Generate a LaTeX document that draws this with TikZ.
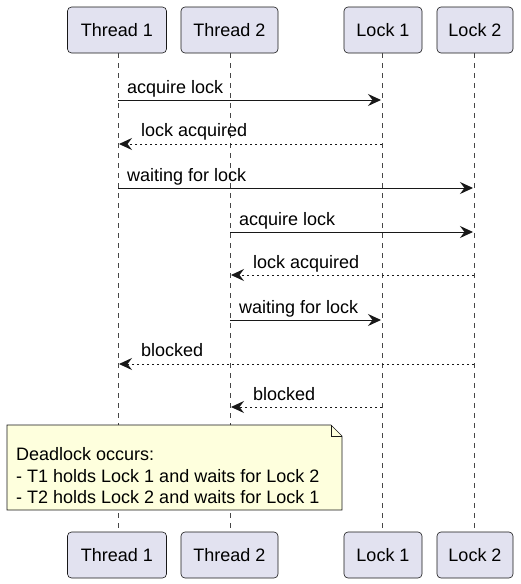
\documentclass[tikz,border=0pt]{standalone}
\usepackage{fontspec}
\setmainfont{Liberation Sans}
\usetikzlibrary{arrows.meta,shapes.misc}
\definecolor{partfill}{HTML}{E2E2F0}
\definecolor{partline}{HTML}{181818}
\definecolor{notefill}{HTML}{FEFFDD}
\tikzset{
  part/.style={draw=partline, fill=partfill, rounded corners=4pt, line width=0.6pt,
    minimum height=46pt, inner sep=0pt, font=\fontsize{18}{21}\selectfont},
  lifeline/.style={draw=partline!80, line width=0.5pt, dash pattern=on 5pt off 5pt},
  msg/.style={draw=partline, line width=1pt, -{Stealth[length=13pt,width=12pt,inset=4.5pt]}},
  reply/.style={msg, dash pattern=on 2.5pt off 2.5pt},
  lbl/.style={inner sep=0pt, font=\fontsize{18}{21}\selectfont},
}
\begin{document}
\begin{tikzpicture}[x=1pt,y=-1pt]
\useasboundingbox (0,0) rectangle (520,584);
% participants top
\node[part, minimum width=99pt] (t1) at (117,30) {Thread 1};
\node[part, minimum width=97pt] (t2) at (229.5,30) {Thread 2};
\node[part, minimum width=78pt] (l1) at (383,30) {Lock 1};
\node[part, minimum width=76pt] (l2) at (475,30) {Lock 2};
% participants bottom
\node[part, minimum width=99pt] (t1b) at (117,555) {Thread 1};
\node[part, minimum width=97pt] (t2b) at (229.5,555) {Thread 2};
\node[part, minimum width=78pt] (l1b) at (383,555) {Lock 1};
\node[part, minimum width=76pt] (l2b) at (475,555) {Lock 2};
% lifelines
\draw[lifeline] (118,53) -- (118,532);
\draw[lifeline] (230,53) -- (230,532);
\draw[lifeline] (382,53) -- (382,532);
\draw[lifeline] (474,53) -- (474,532);
% message endpoints
\coordinate (a1) at (118,100); \coordinate (b1) at (381,100);
\coordinate (a2) at (382,144); \coordinate (b2) at (119,144);
\coordinate (a3) at (118,188); \coordinate (b3) at (473,188);
\coordinate (a4) at (230,232); \coordinate (b4) at (473,232);
\coordinate (a5) at (474,275); \coordinate (b5) at (231,275);
\coordinate (a6) at (230,320); \coordinate (b6) at (381,320);
\coordinate (a7) at (474,364); \coordinate (b7) at (119,364);
\coordinate (a8) at (382,407); \coordinate (b8) at (231,407);
% messages
\draw[msg] (a1) -- (b1);
\node[lbl, anchor=base west] at (127,93) {acquire lock};
\draw[reply] (a2) -- (b2);
\node[lbl, anchor=base west] at (141,136) {lock acquired};
\draw[msg] (a3) -- (b3);
\node[lbl, anchor=base west] at (127,181) {waiting for lock};
\draw[msg] (a4) -- (b4);
\node[lbl, anchor=base west] at (239,225) {acquire lock};
\draw[reply] (a5) -- (b5);
\node[lbl, anchor=base west] at (253,268) {lock acquired};
\draw[msg] (a6) -- (b6);
\node[lbl, anchor=base west] at (239,313) {waiting for lock};
\draw[reply] (a7) -- (b7);
\node[lbl, anchor=base west] at (141,356) {blocked};
\draw[reply] (a8) -- (b8);
\node[lbl, anchor=base west] at (253,400) {blocked};
% note
\draw[draw=partline, fill=notefill, line width=0.6pt]
  (7,425) -- (331,425) -- (342,436) -- (342,510) -- (7,510) -- cycle;
\draw[draw=partline, line width=0.6pt] (331,425) -- (331,436) -- (342,436);
\node[lbl, anchor=base west] (note1) at (16,460) {Deadlock occurs:};
\node[lbl, anchor=base west] (note2) at (16,482) {- T1 holds Lock 1 and waits for Lock 2};
\node[lbl, anchor=base west] (note3) at (16,503) {- T2 holds Lock 2 and waits for Lock 1};
\end{tikzpicture}
\end{document}
